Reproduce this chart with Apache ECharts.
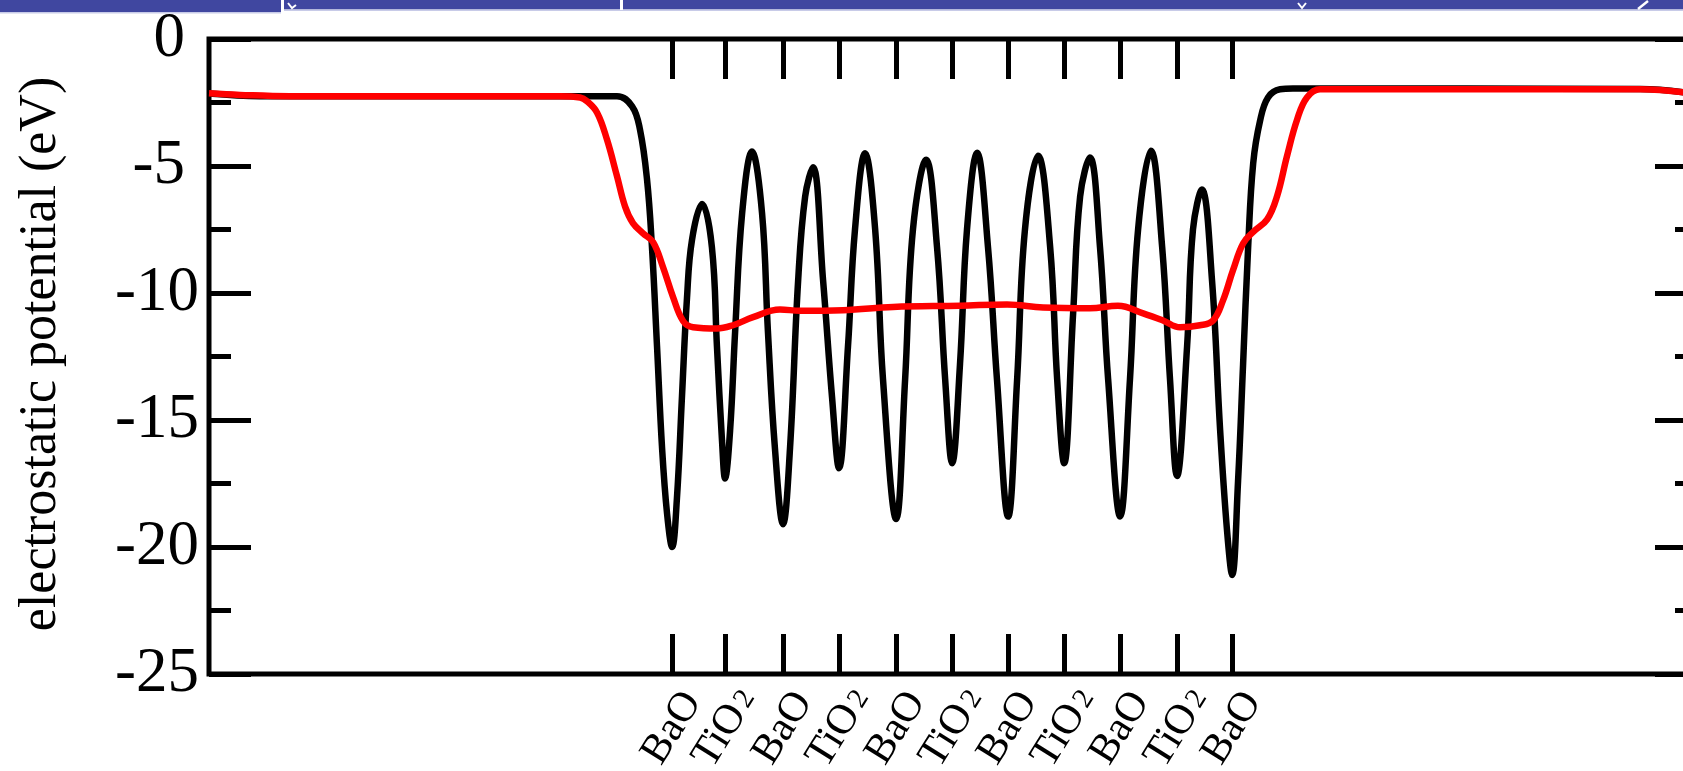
<!DOCTYPE html>
<html><head><meta charset="utf-8">
<script src="https://cdn.jsdelivr.net/npm/echarts@6/dist/echarts.min.js"></script>
<style>html,body{margin:0;padding:0;background:#fff}#c{width:1683px;height:771px}</style>
</head><body><div id="c"></div>
<script>
// layer positions (Å) and names
const layerPos = [16.54, 18.43, 20.5, 22.5, 24.54, 26.54, 28.54, 30.54, 32.54, 34.57, 36.54];
const layerNames = ['BaO','TiO2','BaO','TiO2','BaO','TiO2','BaO','TiO2','BaO','TiO2','BaO'];
// y tick labels (eV)
const yTickValues = [0, -5, -10, -15, -20, -25];

// black curve: planar-averaged potential
const blackX = [0, 1.82, 14.57, 15.11, 15.39, 15.64, 15.82, 16.0, 16.18, 16.36, 16.54, 16.71, 16.89, 17.07, 17.25, 17.61,
  17.96, 18.14, 18.32, 18.43, 18.61, 18.79, 19.04, 19.39, 19.75, 19.96, 20.21, 20.5, 20.75, 21.04, 21.29, 21.57,
  21.93, 22.25, 22.5, 22.82, 23.07, 23.43, 23.79, 24.07, 24.54, 24.86, 25.14, 25.61, 26.0, 26.29, 26.54, 26.82, 27.07, 27.43,
  27.82, 28.14, 28.54, 28.86, 29.14, 29.61, 30.04, 30.29, 30.54, 30.86, 31.11, 31.46, 31.82, 32.11, 32.54, 32.89, 33.18, 33.64,
  34.04, 34.32, 34.57, 34.93, 35.14, 35.46, 35.82, 36.11, 36.36, 36.54, 36.75, 36.93, 37.11, 37.29, 37.54, 37.82, 38.25, 38.71,
  51.11, 53.14];
const blackY = [-2.15, -2.25, -2.25, -2.65, -3.56, -5.5, -8.2, -12.1, -16.1, -18.7, -20.0, -18.1, -14.1, -10.2, -7.9, -6.5,
  -8.2, -12.1, -15.8, -17.3, -15.4, -11.5, -6.85, -4.43, -6.85, -11.5, -16.1, -19.1, -16.1, -9.5, -6.2, -5.05,
  -9.5, -14.1, -16.9, -12.1, -7.5, -4.5, -7.5, -13.4, -18.9, -13.4, -7.5, -4.75, -8.2, -13.4, -16.7, -12.8, -7.5, -4.48,
  -8.2, -13.4, -18.8, -13.4, -7.5, -4.6, -8.2, -13.4, -16.7, -10.8, -6.2, -4.67, -8.2, -13.4, -18.8, -13.4, -7.5, -4.4,
  -8.2, -13.4, -17.2, -12.1, -7.5, -5.93, -9.5, -15.4, -19.4, -21.1, -17.4, -12.8, -8.2, -4.9, -3.2, -2.3, -1.98, -1.95,
  -1.97, -2.17];

// red curve: macroscopic average
const redX = [0, 1.11, 2.89, 12.54, 13.25, 13.5, 13.86, 14.21, 14.57, 14.86, 15.14, 15.5, 15.86, 16.21, 16.57, 16.93, 17.29,
  18.14, 18.71, 19.43, 20.39, 21.11, 22.64, 24.43, 26.82, 28.5, 29.79, 31.46, 32.46, 33.36, 34.07, 34.68, 35.39, 35.86,
  36.21, 36.57, 36.93, 37.29, 37.79, 38.14, 38.5, 38.86, 39.21, 39.68, 51.11, 53.14];
const redY = [-2.14, -2.2, -2.25, -2.25, -2.3, -2.45, -2.9, -3.95, -5.4, -6.6, -7.25, -7.65, -8.0, -8.97, -10.15, -11.1, -11.35,
  -11.4, -11.27, -10.95, -10.65, -10.7, -10.68, -10.55, -10.5, -10.45, -10.57, -10.6, -10.5, -10.8, -11.08, -11.35, -11.27, -11.08,
  -10.3, -9.1, -8.05, -7.6, -7.1, -6.2, -4.6, -3.17, -2.3, -1.98, -1.98, -2.17];

const FONT = '"Liberation Serif", "Times New Roman", serif';
const zip = (xs, ys) => xs.map((x, i) => [x, ys[i]]);
const baoPos = layerPos.filter((p, i) => layerNames[i] === 'BaO');
const tioPos = layerPos.filter((p, i) => layerNames[i] === 'TiO2');

const chart = echarts.init(document.getElementById('c'), null, {renderer: 'canvas'});
const tickStyle = {color: '#000', width: 5};
const noLine = {show: false, onZero: false};
const XMAX = 53.14;
const layerLabel = (vals, fmt) => ({
  show: true, customValues: vals, formatter: fmt, rotate: 58, margin: 54,
  showMinLabel: true, showMaxLabel: true, hideOverlap: false,
  align: 'center', verticalAlign: 'middle', fontFamily: FONT, fontSize: 42, color: '#000',
  rich: {
    m: {fontFamily: FONT, fontSize: 42, color: '#000', verticalAlign: 'bottom'},
    s: {fontFamily: FONT, fontSize: 29, color: '#000', verticalAlign: 'bottom', padding: [0, 0, 5, 4]}
  }
});
const yLabelFmt = v => {
  const t = yTickValues.find(t => Math.abs(t - v) < 1e-6);
  const s = String(t ?? v);
  return s.length <= 2 ? '{a|' + s + '}' : '{b|' + s + '}';
};
chart.setOption({
  animation: false,
  backgroundColor: '#fff',
  grid: {left: 209, top: 39, right: -14, bottom: 97, containLabel: false, outerBoundsMode: 'none',
         show: true, borderColor: '#000', borderWidth: 5, backgroundColor: 'transparent'},
  xAxis: [
    {type: 'value', min: 0, max: XMAX, position: 'bottom',
     axisLine: noLine, splitLine: {show: false},
     axisTick: {show: true, inside: true, length: 40, customValues: baoPos, lineStyle: tickStyle},
     axisLabel: layerLabel(baoPos, () => 'BaO')},
    {type: 'value', min: 0, max: XMAX, position: 'bottom',
     axisLine: noLine, splitLine: {show: false},
     axisTick: {show: true, inside: true, length: 40, customValues: tioPos, lineStyle: tickStyle},
     axisLabel: layerLabel(tioPos, () => '{m|TiO}{s|2}')},
    {type: 'value', min: 0, max: XMAX, position: 'top',
     axisLine: noLine, splitLine: {show: false},
     axisTick: {show: true, inside: true, length: 40, customValues: layerPos, lineStyle: tickStyle},
     axisLabel: {show: false}}
  ],
  yAxis: [
    {type: 'value', min: -25, max: 0, interval: 5, position: 'left',
     axisLine: noLine, splitLine: {show: false},
     axisTick: {show: true, inside: true, length: 42, lineStyle: tickStyle},
     minorTick: {show: true, splitNumber: 2, length: 22, lineStyle: tickStyle},
     axisLabel: {show: true, margin: 10, fontFamily: FONT, fontSize: 63, color: '#000',
       showMinLabel: true, showMaxLabel: true, hideOverlap: false, formatter: yLabelFmt,
       rich: {
         a: {fontFamily: FONT, fontSize: 63, color: '#000', padding: [0, 14, 0, 0]},
         b: {fontFamily: FONT, fontSize: 63, color: '#000'}
       }}},
    {type: 'value', min: -25, max: 0, interval: 5, position: 'right',
     axisLine: noLine, splitLine: {show: false},
     axisTick: {show: true, inside: true, length: 42, lineStyle: tickStyle},
     minorTick: {show: true, splitNumber: 2, length: 22, lineStyle: tickStyle},
     axisLabel: {show: false}}
  ],
  series: [
    {type: 'line', name: 'potential', data: zip(blackX, blackY), showSymbol: false, smooth: 0.4,
     lineStyle: {color: '#000', width: 6.5}, z: 3},
    {type: 'line', name: 'average', data: zip(redX, redY), showSymbol: false, smooth: 0.4,
     lineStyle: {color: '#ff0000', width: 6.5}, z: 4}
  ],
  graphic: [
    {type: 'rect', shape: {x: 0, y: 0, width: 281, height: 12}, style: {fill: '#4047a0'}, z: 10},
    {type: 'rect', shape: {x: 284, y: 0, width: 1399, height: 9.5}, style: {fill: '#4047a0'}, z: 10},
    {type: 'rect', shape: {x: 0, y: 12, width: 281, height: 1.5}, style: {fill: '#c8cbe8'}, z: 10},
    {type: 'rect', shape: {x: 284, y: 9.5, width: 1399, height: 1.5}, style: {fill: '#c8cbe8'}, z: 10},
    {type: 'polyline', shape: {points: [[288, 3], [292, 8], [296, 5]]}, style: {stroke: '#fff', lineWidth: 2, fill: null}, z: 11},
    {type: 'rect', shape: {x: 620, y: 0, width: 3, height: 10}, style: {fill: '#fff'}, z: 11},
    {type: 'polyline', shape: {points: [[1298, 3], [1302, 8], [1306, 3]]}, style: {stroke: '#fff', lineWidth: 2, fill: null}, z: 11},
    {type: 'polyline', shape: {points: [[1638, 9], [1648, 1]]}, style: {stroke: '#fff', lineWidth: 2.5, fill: null}, z: 11},
    {type: 'text', x: 41, y: 354, rotation: Math.PI / 2,
     style: {text: 'electrostatic potential (eV)', fontFamily: FONT, fontSize: 52, fill: '#000', align: 'center', verticalAlign: 'middle'}, z: 10}
  ]
});
</script>
</body></html>
